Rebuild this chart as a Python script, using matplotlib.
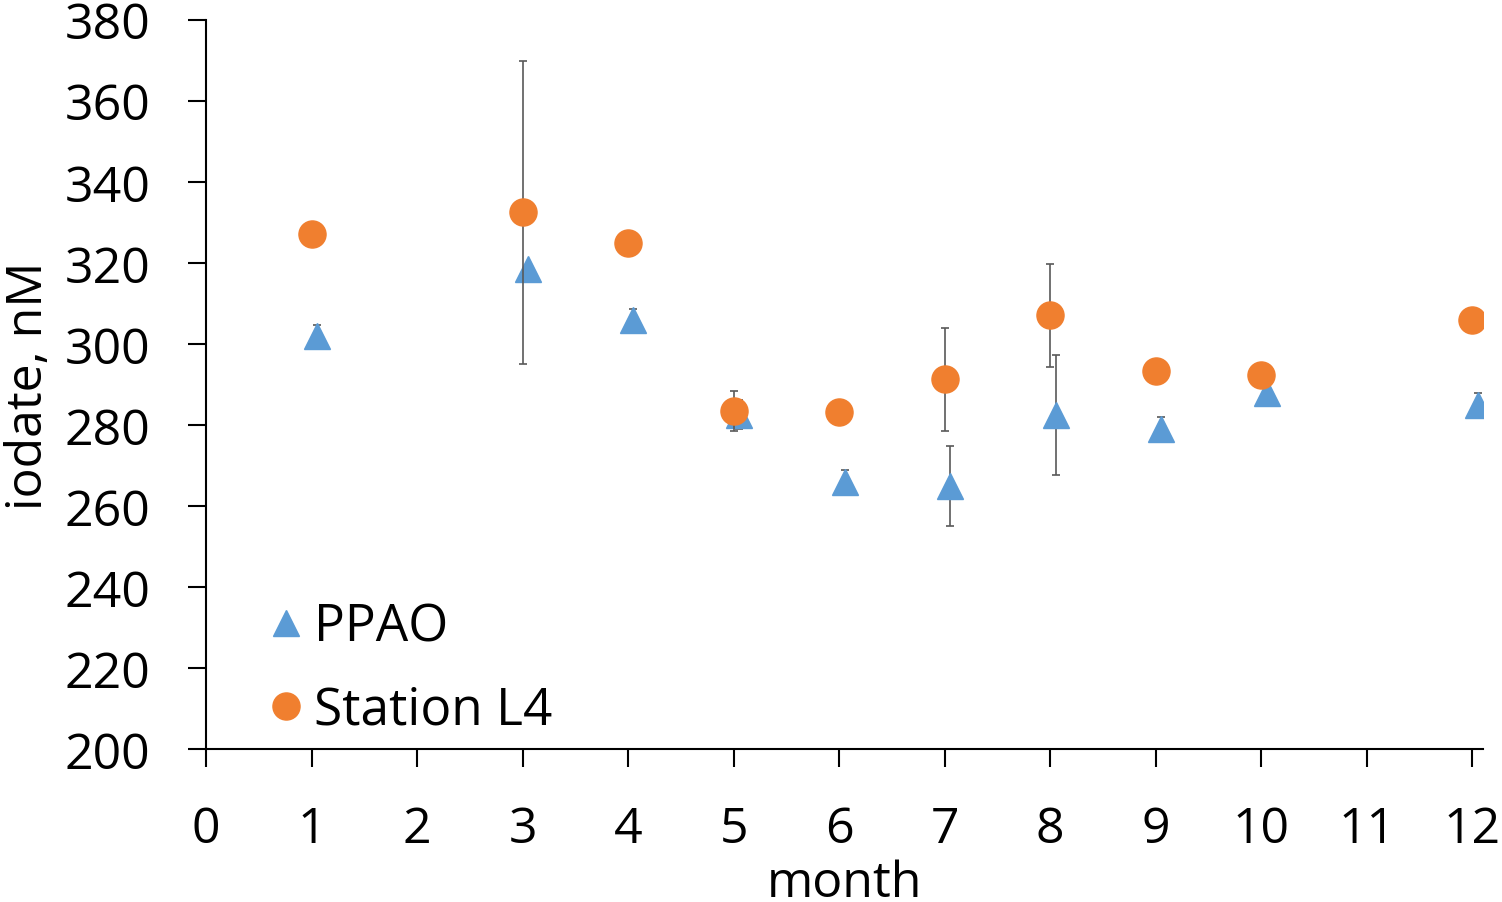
import matplotlib
matplotlib.use('Agg')
import matplotlib.pyplot as plt
from matplotlib.lines import Line2D

# данные
ppao_month = [1.05, 3.05, 4.05, 5.05, 6.05, 7.05, 8.05, 9.05, 10.05, 12.05]
ppao_iodate = [301.9, 318.5, 305.9, 282.5, 265.8, 264.9, 282.4, 278.9, 287.8, 284.8]
ppao_err = [2.8, 0, 2.8, 3.6, 3.1, 9.8, 14.8, 3.1, 0, 3.1]

l4_month = [1, 3, 4, 5, 6, 7, 8, 9, 10, 12]
l4_iodate = [327.0, 332.5, 325.0, 283.5, 283.1, 291.2, 307.0, 293.2, 292.2, 306.0]
l4_err = [0, 37.4, 0, 4.9, 0, 12.7, 12.7, 0, 0, 0]

xticks = list(range(0, 13))
yticks = list(range(200, 381, 20))

blue = '#5B9BD5'
orange = '#F07F2F'

plt.rcParams['font.family'] = ['Open Sans', 'DejaVu Sans']

fig = plt.figure(figsize=(15.02, 9.03), dpi=100)
ax = fig.add_axes([206 / 1502, 1 - 750 / 903, (1483 - 206) / 1502, (750 - 20.7) / 903])

err_kw = dict(ecolor='#595959', elinewidth=1.2, capsize=3.2, capthick=1.2, linestyle='none')
ax.errorbar(ppao_month, ppao_iodate, yerr=ppao_err, marker='^', markersize=19,
            color=blue, zorder=2, **err_kw)
ax.errorbar(l4_month, l4_iodate, yerr=l4_err, marker='o', markersize=19.5,
            color=orange, zorder=3, **err_kw)

ax.set_xlim(0, 12.1)
ax.set_ylim(200, 380)
ax.set_xticks(xticks)
ax.set_yticks(yticks)

for s in ['top', 'right']:
    ax.spines[s].set_visible(False)
for s in ['left', 'bottom']:
    ax.spines[s].set_linewidth(1.5)
    ax.spines[s].set_color('black')
ax.tick_params(axis='both', direction='out', length=13, width=1.5, pad=27, labelsize=36)

ax.set_xlabel('month', fontsize=36)
ax.set_ylabel('iodate, nM', fontsize=36)
ax.xaxis.set_label_coords(0.5, -0.150)
ax.yaxis.set_label_coords(-0.119, 0.5)

# легенда без усов погрешности
handles = [Line2D([], [], marker='^', markersize=19, color=blue, linestyle='none'),
           Line2D([], [], marker='o', markersize=19.5, color=orange, linestyle='none')]
ax.legend(handles, ['PPAO', 'Station L4'], loc='upper left', bbox_to_anchor=(0.0525, 0.2016),
          frameon=False, fontsize=37, handlelength=0.5, handletextpad=0.3,
          labelspacing=0.62, borderpad=0, borderaxespad=0)

fig.savefig('out.png', dpi=100)
